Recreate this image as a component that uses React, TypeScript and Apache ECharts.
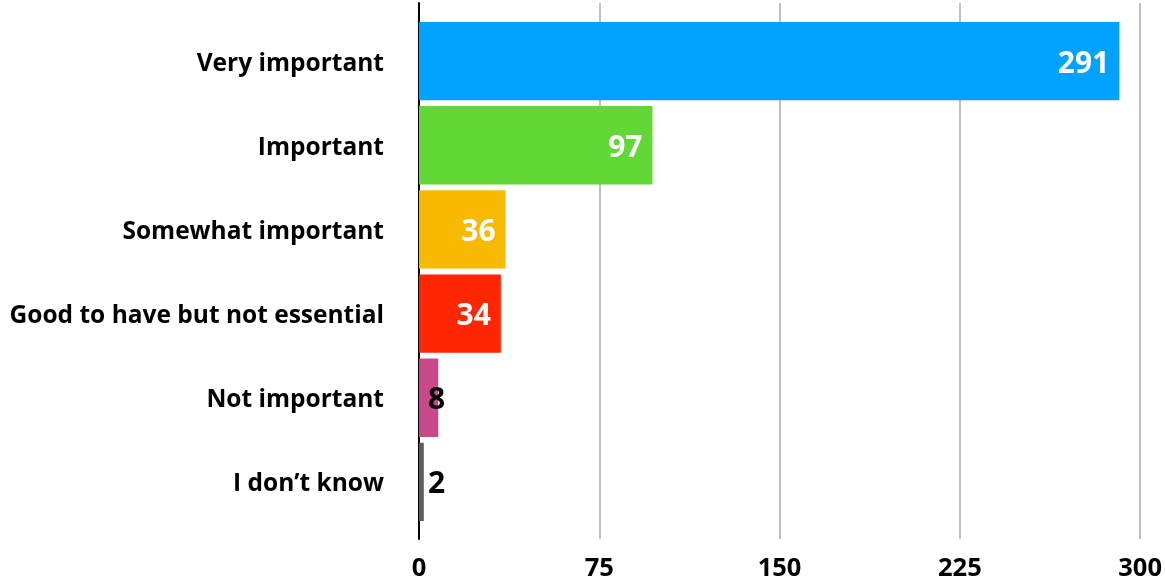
import React, { useEffect, useRef } from "react";
import * as echarts from "echarts";

const categories = [
  "Very important",
  "Important",
  "Somewhat important",
  "Good to have but not essential",
  "Not important",
  "I don\u2019t know",
];
const values = [291, 97, 36, 34, 8, 2];
const colors = ["#00A2FF", "#61D836", "#F8BA00", "#FF2600", "#C7498A", "#5E5E5E"];
const insideLabel = [true, true, true, true, false, false];
const xTicks = [0, 75, 150, 225, 300];

const FONT = "'Open Sans', Lato, sans-serif";

export default function App() {
  const ref = useRef<HTMLDivElement>(null);
  useEffect(() => {
    if (!ref.current) return;
    const chart = echarts.init(ref.current, null, { renderer: "svg" });
    const left = 419;
    const right = 1165 - 1141;
    chart.setOption({
      animation: false,
      grid: [
        { left, right, top: 3, bottom: 587 - 539 },
        { left, right, top: 19, bottom: 587 - 524 },
      ],
      xAxis: [
        {
          gridIndex: 0,
          type: "value",
          min: xTicks[0],
          max: xTicks[xTicks.length - 1],
          interval: 75,
          axisLine: { show: false },
          axisTick: { show: false },
          splitLine: { show: true, lineStyle: { color: "#C0C0C0", width: 2 } },
          axisLabel: {
            color: "#000",
            fontFamily: FONT,
            fontWeight: "bold",
            fontSize: 25.5,
            margin: 14,
          },
        },
        {
          gridIndex: 1,
          type: "value",
          min: xTicks[0],
          max: xTicks[xTicks.length - 1],
          show: false,
        },
      ],
      yAxis: [
        {
          gridIndex: 0,
          type: "value",
          min: 0,
          max: 1,
          axisLine: { show: true, lineStyle: { color: "#000", width: 2 } },
          axisTick: { show: false },
          axisLabel: { show: false },
          splitLine: { show: false },
        },
        {
          gridIndex: 1,
          type: "category",
          inverse: true,
          data: categories,
          axisLine: { show: false },
          axisTick: { show: false },
          splitLine: { show: false },
          axisLabel: {
            color: "#000",
            fontFamily: FONT,
            fontWeight: "bold",
            fontSize: 24.5,
            margin: 35,
          },
        },
      ],
      series: [
        {
          type: "bar",
          xAxisIndex: 1,
          yAxisIndex: 1,
          barCategoryGap: "7%",
          z: 1,
          data: values.map((v, i) => ({
            value: v,
            itemStyle: { color: colors[i] },
            label: insideLabel[i]
              ? { show: true, position: "insideRight", distance: 10, color: "#fff" }
              : { show: true, position: "insideLeft", distance: 9, color: "#000" },
          })),
          label: {
            show: true,
            fontFamily: FONT,
            fontWeight: "bold",
            fontSize: 30,
          },
        },
      ],
    });
    return () => chart.dispose();
  }, []);
  return (
    <div
      ref={ref}
      style={{ position: "fixed", left: 0, top: 0, width: 1165, height: 587 }}
    />
  );
}
